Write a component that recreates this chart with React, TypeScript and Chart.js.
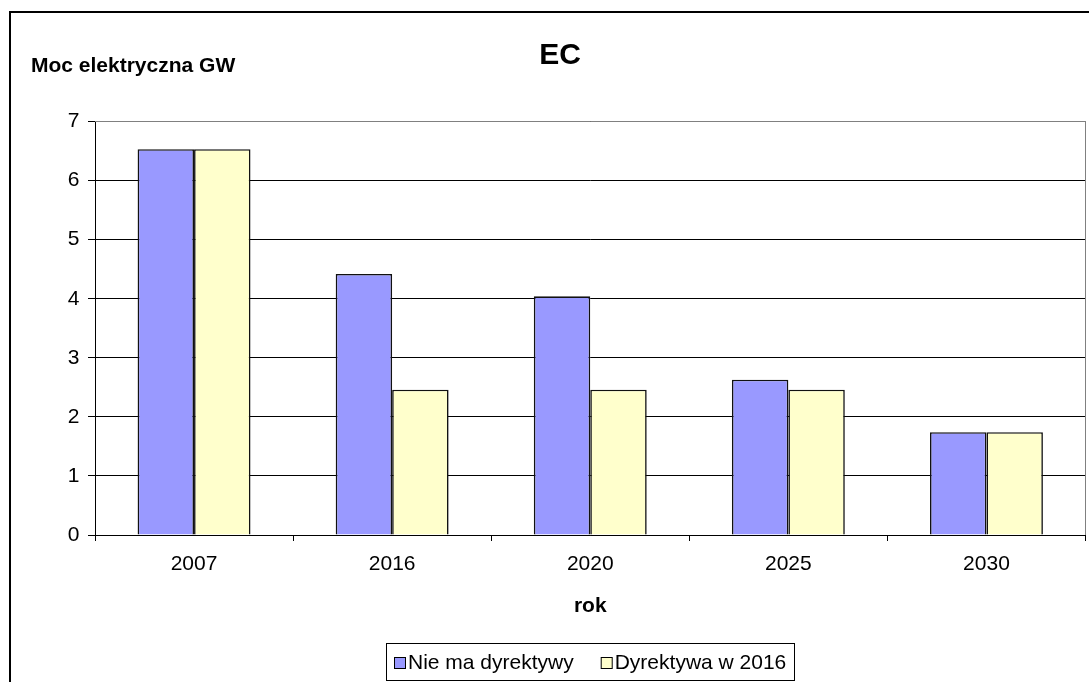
import { useEffect, useRef } from 'react';
import { Chart, registerables } from 'chart.js';

Chart.register(...registerables);

// Installed electrical capacity (GW) by year, two scenarios
const years = ['2007', '2016', '2020', '2025', '2030'];
const noDirective = [6.53, 4.42, 4.04, 2.63, 1.74];
const directive2016 = [6.53, 2.46, 2.46, 2.46, 1.74];
const seriesNames = ['Nie ma dyrektywy', 'Dyrektywa w 2016'];
const seriesColors = ['#9999FF', '#FFFFCC'];
const yTicks = [0, 1, 2, 3, 4, 5, 6, 7];

const chartTitle = 'EC';
const yTitle = 'Moc elektryczna GW';
const xTitle = 'rok';

const FONT = "'Liberation Sans', Arial, Helvetica, sans-serif";
const W = 1089;
const H = 682;

// Frame, titles and boxed legend drawn on top of the chart
const decorations = {
  id: 'decorations',
  afterDraw(chart: any) {
    const { ctx, chartArea: a } = chart;
    ctx.save();

    // plot area frame (top and right edges)
    ctx.strokeStyle = '#808080';
    ctx.lineWidth = 1;
    const top = Math.floor(a.top) + 0.5;
    const right = Math.floor(a.right) + 0.5;
    ctx.beginPath();
    ctx.moveTo(a.left, top);
    ctx.lineTo(right, top);
    ctx.lineTo(right, a.bottom);
    ctx.stroke();

    // outer chart frame
    ctx.strokeStyle = '#000';
    ctx.lineWidth = 2;
    ctx.beginPath();
    ctx.moveTo(10, chart.height + 4);
    ctx.lineTo(10, 12);
    ctx.lineTo(chart.width + 4, 12);
    ctx.stroke();

    ctx.fillStyle = '#000';
    ctx.textBaseline = 'alphabetic';

    ctx.font = `bold 30px ${FONT}`;
    ctx.textAlign = 'center';
    ctx.fillText(chartTitle, 560, 64);

    ctx.font = `bold 21px ${FONT}`;
    ctx.textAlign = 'left';
    ctx.fillText(yTitle, 31, 72);

    ctx.textAlign = 'center';
    ctx.fillText(xTitle, (a.left + a.right) / 2, 612);

    // legend
    ctx.font = `21px ${FONT}`;
    ctx.textAlign = 'left';
    const sq = 11;
    const gapText = 3;
    const gapItems = 27;
    const pad = 8;
    const datasets = chart.data.datasets;
    const widths = datasets.map((d: any) => ctx.measureText(d.label).width);
    const total =
      pad * 2 +
      widths.reduce((s: number, w: number) => s + sq + gapText + w, 0) +
      gapItems * (datasets.length - 1);
    const boxLeft = Math.round((a.left + a.right) / 2 - total / 2);
    const boxTop = 643;
    const boxH = 37;
    ctx.lineWidth = 1;
    ctx.strokeStyle = '#000';
    ctx.strokeRect(boxLeft + 0.5, boxTop + 0.5, Math.round(total), boxH);
    let x = boxLeft + pad;
    datasets.forEach((d: any, i: number) => {
      ctx.fillStyle = d.backgroundColor;
      ctx.fillRect(x + 0.5, 657.5, sq, sq);
      ctx.strokeStyle = '#000';
      ctx.strokeRect(x + 0.5, 657.5, sq, sq);
      ctx.fillStyle = '#000';
      ctx.fillText(d.label, x + sq + gapText, 669);
      x += sq + gapText + widths[i] + gapItems;
    });

    ctx.restore();
  },
};

export default function App() {
  const canvasRef = useRef<HTMLCanvasElement | null>(null);

  useEffect(() => {
    if (!canvasRef.current) return;
    const chart = new Chart(canvasRef.current, {
      type: 'bar',
      data: {
        labels: years,
        datasets: [
          {
            label: seriesNames[0],
            data: noDirective,
            backgroundColor: seriesColors[0],
            borderColor: '#111',
            borderWidth: 1.6,
            categoryPercentage: 0.57,
            barPercentage: 1,
          },
          {
            label: seriesNames[1],
            data: directive2016,
            backgroundColor: seriesColors[1],
            borderColor: '#111',
            borderWidth: 1.6,
            categoryPercentage: 0.57,
            barPercentage: 1,
          },
        ],
      },
      options: {
        responsive: false,
        animation: false,
        devicePixelRatio: 1,
        layout: { padding: { left: 0, top: 121.5, right: 3.5, bottom: 0 } },
        plugins: {
          legend: { display: false },
          title: { display: false },
          tooltip: { enabled: false },
        },
        scales: {
          x: {
            afterFit: (scale: any) => {
              scale.height = 147;
            },
            grid: {
              offset: true,
              drawOnChartArea: false,
              drawTicks: true,
              tickLength: 6,
              color: '#000',
            },
            border: { display: true, color: '#000', width: 1 },
            ticks: {
              color: '#000',
              font: { family: FONT, size: 21 },
              padding: 11,
              maxRotation: 0,
            },
          },
          y: {
            min: 0,
            max: 7,
            afterFit: (scale: any) => {
              scale.width = 95;
            },
            afterBuildTicks: (scale: any) => {
              scale.ticks = yTicks.map((v) => ({ value: v }));
            },
            grid: {
              color: '#000',
              lineWidth: 1,
              drawTicks: true,
              tickLength: 7,
            },
            border: { display: true, color: '#000', width: 1 },
            ticks: {
              color: '#000',
              font: { family: FONT, size: 21 },
              padding: 8.5,
            },
          },
        },
      },
      plugins: [decorations],
    });
    return () => chart.destroy();
  }, []);

  return (
    <div style={{ position: 'absolute', left: 0, top: 0, width: W, height: H, background: '#fff' }}>
      <canvas ref={canvasRef} width={W} height={H} style={{ display: 'block' }} />
    </div>
  );
}
